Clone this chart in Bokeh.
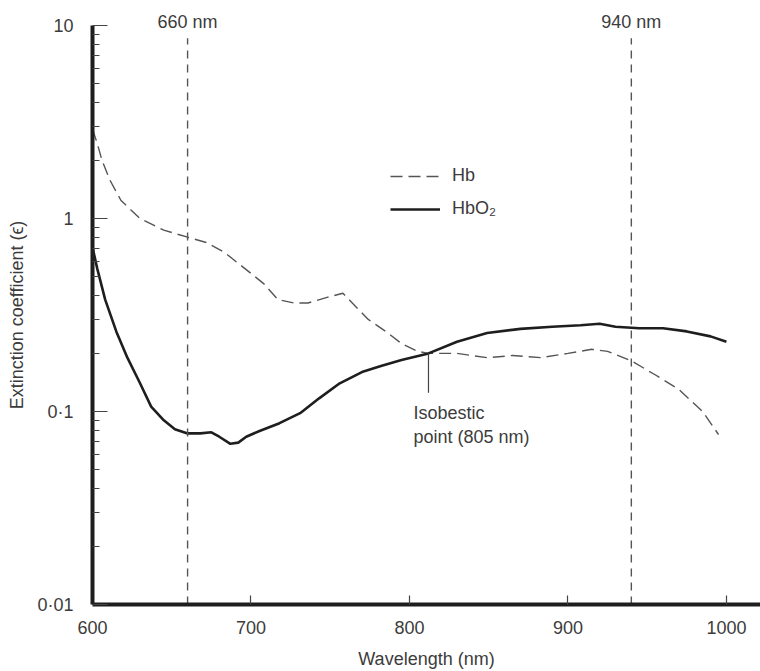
from bokeh.plotting import figure
from bokeh.models import (Range1d, FixedTicker, CustomJSTickFormatter, Label, Legend,
                          LegendItem, Segment, ColumnDataSource, LinearAxis)
from bokeh.embed import file_html
from bokeh.resources import INLINE

# ---- data ----
hb_wl = [600, 603, 606, 611, 618, 630, 645, 660, 672, 683, 695, 708, 717, 727, 736,
         748, 758, 766, 774, 785, 795, 805, 812, 830, 849, 865, 883, 900, 915, 925,
         940, 955, 970, 985, 995]
hb_eps = [2.9, 2.45, 2.0, 1.58, 1.24, 1.0, 0.87, 0.80, 0.75, 0.67, 0.56, 0.46, 0.38,
          0.365, 0.365, 0.39, 0.41, 0.35, 0.30, 0.26, 0.225, 0.205, 0.20, 0.20, 0.19,
          0.195, 0.19, 0.20, 0.21, 0.205, 0.183, 0.155, 0.13, 0.10, 0.076]

hbo2_wl = [600, 603, 608, 615, 622, 630, 637, 645, 652, 660, 668, 675, 680, 687, 692,
           697, 705, 718, 731, 743, 756, 770, 782, 795, 812, 830, 849, 870, 890, 908,
           920, 930, 945, 960, 975, 990, 1000]
hbo2_eps = [0.71, 0.55, 0.38, 0.26, 0.19, 0.14, 0.106, 0.09, 0.081, 0.077, 0.077,
            0.078, 0.074, 0.068, 0.069, 0.074, 0.079, 0.087, 0.098, 0.117, 0.14, 0.16,
            0.172, 0.185, 0.20, 0.23, 0.255, 0.268, 0.275, 0.28, 0.285, 0.275, 0.27,
            0.27, 0.26, 0.245, 0.23]

marker_wl = [660, 940]
isobestic_wl = 812
isobestic_eps = [0.125, 0.20]

y_major = [0.01, 0.1, 1, 10]
y_labels = ["0·01", "0·1", "1", "10"]
x_major = [600, 700, 800, 900, 1000]

FONT = "Liberation Sans"
FS = "18px"
TXT = "#3c3c3c"
INK = "#1e1e1e"

p = figure(width=760, height=671, y_axis_type="log",
           x_range=Range1d(600, 1021.5), y_range=Range1d(0.01, 10),
           output_backend="svg", toolbar_location=None,
           min_border_left=92, min_border_right=0, min_border_top=25,
           min_border_bottom=66)
p.outline_line_color = None
p.xgrid.visible = False
p.ygrid.visible = False
p.background_fill_color = "white"

xa = p.below[0]
ya = p.left[0]

# curves
r_hb = p.line(hb_wl, hb_eps, line_color="#555555", line_width=1.4, line_dash="12 6")
r_hbo2 = p.line(hbo2_wl, hbo2_eps, line_color=INK, line_width=2.6)

# vertical marker lines
src_m = ColumnDataSource(dict(x=marker_wl, y0=[0.01] * len(marker_wl), y1=[8.6] * len(marker_wl)))
p.add_glyph(src_m, Segment(x0="x", y0="y0", x1="x", y1="y1", line_color="#555555",
                            line_width=1.4, line_dash="8 6"))

# marker labels as a bare top axis
top = LinearAxis(ticker=FixedTicker(ticks=marker_wl, minor_ticks=[]),
                 formatter=CustomJSTickFormatter(code='return tick + " nm";'))
top.axis_line_color = None
top.major_tick_line_color = None
top.minor_tick_line_color = None
top.major_tick_in = 0
top.major_tick_out = 0
top.minor_tick_in = 0
top.minor_tick_out = 0
top.major_label_standoff = -6
top.major_label_text_font = FONT
top.major_label_text_font_size = FS
top.major_label_text_color = TXT
p.add_layout(top, "above")

# isobestic pointer
p.segment(x0=[isobestic_wl], y0=[isobestic_eps[0]], x1=[isobestic_wl], y1=[isobestic_eps[1]],
          line_color="#444444", line_width=1.2)
p.add_layout(Label(x=isobestic_wl, y=isobestic_eps[0], x_offset=-15, y_offset=-20,
                   text="Isobestic", text_align="left", text_baseline="middle",
                   text_font=FONT, text_font_size=FS, text_color=TXT))
p.add_layout(Label(x=isobestic_wl, y=isobestic_eps[0], x_offset=-15, y_offset=-44,
                   text="point (805 nm)", text_align="left", text_baseline="middle",
                   text_font=FONT, text_font_size=FS, text_color=TXT))

# legend
legend = Legend(items=[LegendItem(label="Hb", renderers=[r_hb]),
                       LegendItem(label="HbO₂", renderers=[r_hbo2])],
                location=(298, 385), orientation="vertical",
                glyph_width=50, glyph_height=20, label_height=20, spacing=12,
                padding=0, margin=0, label_standoff=12,
                border_line_color=None, background_fill_alpha=0,
                label_text_font=FONT, label_text_font_size=FS, label_text_color=TXT)
p.add_layout(legend)

# y axis
minors = [m * 10.0 ** e for e in (-2, -1, 0) for m in range(2, 10)]
ya.ticker = FixedTicker(ticks=y_major, minor_ticks=minors)
ya.formatter = CustomJSTickFormatter(args=dict(vals=y_major, labs=y_labels), code="""
    const e = Math.round(Math.log10(tick));
    for (let i = 0; i < vals.length; i++) {
        if (Math.round(Math.log10(vals[i])) == e) return labs[i];
    }
    return "";
""")
ya.axis_label = "Extinction coefficient (ϵ)"
ya.axis_line_width = 4
ya.axis_line_color = INK
ya.major_tick_in = 15
ya.major_tick_out = 0
ya.minor_tick_in = 7
ya.minor_tick_out = 0
ya.major_tick_line_color = "#444444"
ya.minor_tick_line_color = "#444444"
ya.major_tick_line_width = 1.2
ya.minor_tick_line_width = 1.2
ya.major_label_standoff = 19
ya.axis_label_standoff = 7
ya.major_label_text_font = FONT
ya.major_label_text_font_size = FS
ya.major_label_text_color = TXT
ya.axis_label_text_font = FONT
ya.axis_label_text_font_size = FS
ya.axis_label_text_font_style = "normal"
ya.axis_label_text_color = TXT

# x axis
xa.ticker = FixedTicker(ticks=x_major, minor_ticks=[])
xa.axis_label = "Wavelength (nm)"
xa.axis_line_width = 4
xa.axis_line_color = INK
xa.major_tick_in = 9
xa.major_tick_out = 0
xa.minor_tick_in = 0
xa.minor_tick_out = 0
xa.major_tick_line_color = "#444444"
xa.major_tick_line_width = 1.2
xa.major_label_standoff = 16
xa.axis_label_standoff = 12
xa.major_label_text_font = FONT
xa.major_label_text_font_size = FS
xa.major_label_text_color = TXT
xa.axis_label_text_font = FONT
xa.axis_label_text_font_size = FS
xa.axis_label_text_font_style = "normal"
xa.axis_label_text_color = TXT

open("out.html", "w").write(file_html(p, INLINE))
